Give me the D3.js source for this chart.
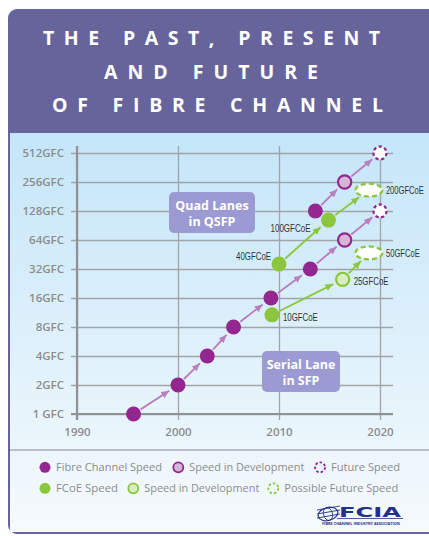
<!DOCTYPE html>
<html>
<head>
<meta charset="utf-8">
<script src="https://cdn.jsdelivr.net/npm/d3@7"></script>
<style>
  body { margin:0; background:#fff; }
  text { font-family:"Open Sans", "DejaVu Sans", sans-serif; }
</style>
</head>
<body>
<script>
// ---- data ----
const titleLines = ["THE PAST, PRESENT", "AND FUTURE", "OF FIBRE CHANNEL"]
const yTicks = [1, 2, 4, 8, 16, 32, 64, 128, 256, 512]
const yTickLabels = ["1 GFC","2GFC","4GFC","8GFC","16GFC","32GFC","64GFC","128GFC","256GFC","512GFC"]
const xTicks = [1990, 2000, 2010, 2020]

// serial lane (SFP) fibre channel
const serialYears  = [1995.6, 2000, 2002.9, 2005.5, 2009.2, 2013.1, 2016.5, 2020]
const serialSpeeds = [1, 2, 4, 8, 16, 32, 64, 128]
const serialStatus = ["done","done","done","done","done","done","dev","future"]

// quad lanes (QSFP) fibre channel
const quadYears  = [2013.6, 2016.5, 2020]
const quadSpeeds = [128, 256, 512]
const quadStatus = ["done","dev","future"]

// FCoE serial
const fcoeSerialLabels = ["10GFCoE","25GFCoE","50GFCoE"]
const fcoeSerialYears  = [2009.3, 2016.3, 2018.9]
const fcoeSerialSpeeds = [10.7, 25, 47]
const fcoeSerialStatus = ["done","dev","future"]

// FCoE quad
const fcoeQuadLabels = ["40GFCoE","100GFCoE","200GFCoE"]
const fcoeQuadYears  = [2010, 2014.9, 2018.9]
const fcoeQuadSpeeds = [36, 103, 211]
const fcoeQuadStatus = ["done","done","future"]

const legendRow1 = ["Fibre Channel Speed","Speed in Development","Future Speed"]
const legendRow2 = ["FCoE Speed","Speed in Development","Possible Future Speed"]

// ---- colours ----
const purple = "#93278f", purpleLight = "#d6b6d8", purpleArrow = "#b97fbe"
const green = "#8cc63f", greenLight = "#d9edc0", greenArrow = "#8cc63f"
const headerCol = "#67649c", gridCol = "#a2a4a8", labelCol = "#8c8c8c"

const svg = d3.select("body")
              .append("svg")
              .attr("width", 429)
              .attr("height", 536)

const defs = svg.append("defs")
const grad = defs.append("linearGradient").attr("id","bg").attr("x1",0).attr("y1",0).attr("x2",0).attr("y2",1)
grad.append("stop").attr("offset","0%").attr("stop-color","#c4e6f9")
grad.append("stop").attr("offset","100%").attr("stop-color","#f6fafd")

function arrowMarker(id, col) {
  defs.append("marker")
      .attr("id", id)
      .attr("markerUnits","userSpaceOnUse")
      .attr("markerWidth", 9).attr("markerHeight", 8)
      .attr("refX", 8).attr("refY", 4)
      .attr("orient","auto")
      .append("path")
      .attr("d","M0,0.5 L8,4 L0,7.5 Z")
      .attr("fill", col)
}
arrowMarker("ap", purpleArrow)
arrowMarker("ag", greenArrow)

// ---- panel ----
const clip = defs.append("clipPath").attr("id","panel")
clip.append("rect").attr("x",8).attr("y",9).attr("width",440).attr("height",525).attr("rx",9)

const panel = svg.append("g").attr("clip-path","url(#panel)")
panel.append("rect").attr("x",8).attr("y",9).attr("width",440).attr("height",525).attr("fill",headerCol)
panel.append("rect").attr("x",10).attr("y",133).attr("width",440).attr("height",399).attr("fill","url(#bg)")
panel.append("line").attr("x1",10).attr("x2",429).attr("y1",450).attr("y2",450)
     .attr("stroke","#a9adb8").attr("stroke-width",1.5)

const titleLen = [337, 214, 331]
const titleX = [211.5, 211, 217.5]
const titleY = [44.7, 79.4, 112.4]
svg.selectAll(".title")
   .data(titleLines)
   .enter()
   .append("text")
   .attr("class","title")
   .attr("x",(d,i)=>titleX[i])
   .attr("y",(d,i)=>titleY[i])
   .attr("text-anchor","middle")
   .attr("textLength",(d,i)=>titleLen[i])
   .attr("lengthAdjust","spacing")
   .attr("fill","#fff")
   .attr("font-weight",700)
   .attr("font-size",19.5)
   .text(d=>d)

// ---- scales / axes ----
const x = d3.scaleLinear().domain([1990,2020]).range([77,380])
const y = d3.scaleLog().base(2).domain([1,512]).range([414,153])

const yAxis = svg.append("g")
                 .attr("transform","translate(77,0)")
                 .call(d3.axisLeft(y).tickValues(yTicks).tickSize(0).tickPadding(13)
                        .tickFormat((d,i)=>yTickLabels[i]))
yAxis.select(".domain").remove()
yAxis.selectAll(".tick line").attr("x1",-6).attr("x2",316).attr("stroke",gridCol).attr("stroke-width",1.3)
yAxis.selectAll(".tick text").attr("fill",labelCol).attr("font-size",11.5).attr("font-weight",600)
     .style("font-family",'"Open Sans", sans-serif')

const xAxis = svg.append("g")
                 .attr("transform","translate(0,414)")
                 .call(d3.axisBottom(x).tickValues(xTicks).tickFormat(d3.format("d")))
xAxis.select(".domain").remove()
xAxis.selectAll(".tick line").attr("y1",-268).attr("y2",6).attr("stroke",gridCol).attr("stroke-width",1.3)
xAxis.selectAll(".tick text").attr("y",14).attr("fill",labelCol).attr("font-size",11.5).attr("font-weight",600)
     .style("font-family",'"Open Sans", sans-serif')

// axis lines
svg.append("line").attr("x1",77).attr("x2",77).attr("y1",146).attr("y2",420)
   .attr("stroke","#909296").attr("stroke-width",2.2)
svg.append("line").attr("x1",71).attr("x2",393).attr("y1",414).attr("y2",414)
   .attr("stroke","#909296").attr("stroke-width",2.2)

// ---- annotation boxes ----
function noteBox(x0, y0, w, h, lines) {
  svg.append("rect").attr("x",x0).attr("y",y0).attr("width",w).attr("height",h).attr("rx",5)
     .attr("fill","#9c9ad3")
  lines.forEach((t,i) => {
    svg.append("text").attr("x",x0+w/2).attr("y",y0+17.5+i*16)
       .attr("text-anchor","middle").attr("fill","#fff").attr("font-weight",700).attr("font-size",12.5)
       .text(t)
  })
}
noteBox(169, 192, 86, 41, ["Quad Lanes","in QSFP"])
noteBox(262, 351, 78, 41, ["Serial Lane","in SFP"])

// ---- series ----
const R = 7.5, RX = 13.5, RY = 6.5

function makePts(years, speeds, status, labels) {
  return years.map((yr,i) => ({x:x(yr), y:y(speeds[i]), s:status[i], label: labels ? labels[i] : null}))
}

function edge(p, ux, uy) {
  if (p.s === "future" && p.ellipse) return 1/Math.sqrt((ux/RX)**2 + (uy/RY)**2)
  return p.s === "future" ? 7 : R
}

function drawSeries(pts, main, light, arrowCol, markerId, ellipseFuture) {
  pts.forEach(p => p.ellipse = ellipseFuture)
  const g = svg.append("g")
  for (let i = 0; i < pts.length-1; i++) {
    const a = pts[i], b = pts[i+1]
    const dx = b.x-a.x, dy = b.y-a.y, L = Math.hypot(dx,dy)
    const ux = dx/L, uy = dy/L
    const s = edge(a,ux,uy)+1, e = edge(b,ux,uy)+3
    g.append("line")
     .attr("x1",a.x+ux*s).attr("y1",a.y+uy*s)
     .attr("x2",b.x-ux*e).attr("y2",b.y-uy*e)
     .attr("stroke",arrowCol).attr("stroke-width",1.9)
     .attr("marker-end",`url(#${markerId})`)
  }
  pts.forEach(p => {
    if (p.s === "future") {
      if (ellipseFuture) {
        g.append("ellipse").attr("cx",p.x).attr("cy",p.y).attr("rx",RX).attr("ry",RY)
         .attr("fill","#fff").attr("stroke",main).attr("stroke-width",2.3).attr("stroke-dasharray","5,3")
      } else {
        g.append("circle").attr("cx",p.x).attr("cy",p.y).attr("r",6.5)
         .attr("fill","#fff").attr("stroke",main).attr("stroke-width",2.3).attr("stroke-dasharray","3.2,2.5")
      }
    } else if (p.s === "dev") {
      g.append("circle").attr("cx",p.x).attr("cy",p.y).attr("r",6.6)
       .attr("fill",light).attr("stroke",main).attr("stroke-width",2.2)
    } else {
      g.append("circle").attr("cx",p.x).attr("cy",p.y).attr("r",R).attr("fill",main)
    }
  })
  return g
}

drawSeries(makePts(serialYears, serialSpeeds, serialStatus), purple, purpleLight, purpleArrow, "ap", false)
drawSeries(makePts(quadYears, quadSpeeds, quadStatus), purple, purpleLight, purpleArrow, "ap", false)
const fs = makePts(fcoeSerialYears, fcoeSerialSpeeds, fcoeSerialStatus, fcoeSerialLabels)
const fq = makePts(fcoeQuadYears, fcoeQuadSpeeds, fcoeQuadStatus, fcoeQuadLabels)
drawSeries(fs, green, greenLight, greenArrow, "ag", true)
drawSeries(fq, green, greenLight, greenArrow, "ag", true)

// FCoE labels: condensed text, placed relative to each point
const labelPlace = {
  "10GFCoE": [11, 6, "start", 35], "25GFCoE": [11, 5.5, "start", 35], "50GFCoE": [17, 4, "start", 34],
  "40GFCoE": [-8, -4.5, "end", 35], "100GFCoE": [-18, 11.5, "end", 40], "200GFCoE": [17, 4, "start", 38]
}
fs.concat(fq).forEach(p => {
  const [dx, dy, anchor, len] = labelPlace[p.label]
  const t = svg.append("text")
     .attr("text-anchor",anchor)
     .attr("fill","#333").attr("font-size",11)
     .style("font-family",'"Liberation Sans", Arial, sans-serif')
     .text(p.label)
  const k = len / t.node().getComputedTextLength()
  t.attr("transform",`translate(${p.x+dx},${p.y+dy}) scale(${k},1)`)
})

// ---- legend ----
const legendMarkX = [[45,178.3,320],[45,133.3,273.3]]
const legendRowY = [467.3, 488.3]
const legendLen = [[106,115,69],[62,115,114]]
;[legendRow1, legendRow2].forEach((row,r) => {
  const main = r === 0 ? purple : green
  const light = r === 0 ? purpleLight : greenLight
  row.forEach((t,i) => {
    const cx = legendMarkX[r][i], cy = legendRowY[r]
    if (i === 0) {
      svg.append("circle").attr("cx",cx).attr("cy",cy).attr("r",5.5).attr("fill",main)
    } else if (i === 1) {
      svg.append("circle").attr("cx",cx).attr("cy",cy).attr("r",5).attr("fill",light)
         .attr("stroke",main).attr("stroke-width",1.8)
    } else {
      svg.append("circle").attr("cx",cx).attr("cy",cy).attr("r",5).attr("fill","none")
         .attr("stroke",main).attr("stroke-width",1.8).attr("stroke-dasharray","2.5,2")
    }
    svg.append("text").attr("x",cx+11).attr("y",cy+4)
       .attr("textLength",legendLen[r][i]).attr("lengthAdjust","spacingAndGlyphs")
       .attr("fill",labelCol).attr("font-size",11.5)
       .text(t)
  })
})

// ---- FCIA logo ----
const logo = svg.append("g").attr("fill","#243189").attr("stroke","#243189")
logo.append("ellipse").attr("cx",328).attr("cy",514).attr("rx",10).attr("ry",6.5)
    .attr("fill","none").attr("stroke-width",1.2).attr("transform","rotate(-15,328,514)")
logo.append("ellipse").attr("cx",328).attr("cy",514).attr("rx",4.5).attr("ry",6.5)
    .attr("fill","none").attr("stroke-width",0.8).attr("transform","rotate(-15,328,514)")
;[508,512,516].forEach(yy => {
  logo.append("line").attr("x1",317).attr("x2",340).attr("y1",yy+2).attr("y2",yy-2).attr("stroke-width",0.9)
})
logo.append("text").attr("x",339).attr("y",516.5).attr("stroke","none")
    .attr("font-size",14).attr("font-weight",900).attr("textLength",62).attr("lengthAdjust","spacingAndGlyphs")
    .style("font-family",'"DejaVu Sans", sans-serif')
    .text("FCIA")
logo.append("line").attr("x1",337).attr("x2",403).attr("y1",518.5).attr("y2",518.5).attr("stroke-width",0.8)
logo.append("text").attr("x",322).attr("y",525).attr("stroke","none")
    .attr("font-size",3.5).attr("font-weight",700).attr("textLength",78).attr("lengthAdjust","spacingAndGlyphs")
    .text("FIBRE CHANNEL INDUSTRY ASSOCIATION")
</script>
</body>
</html>
